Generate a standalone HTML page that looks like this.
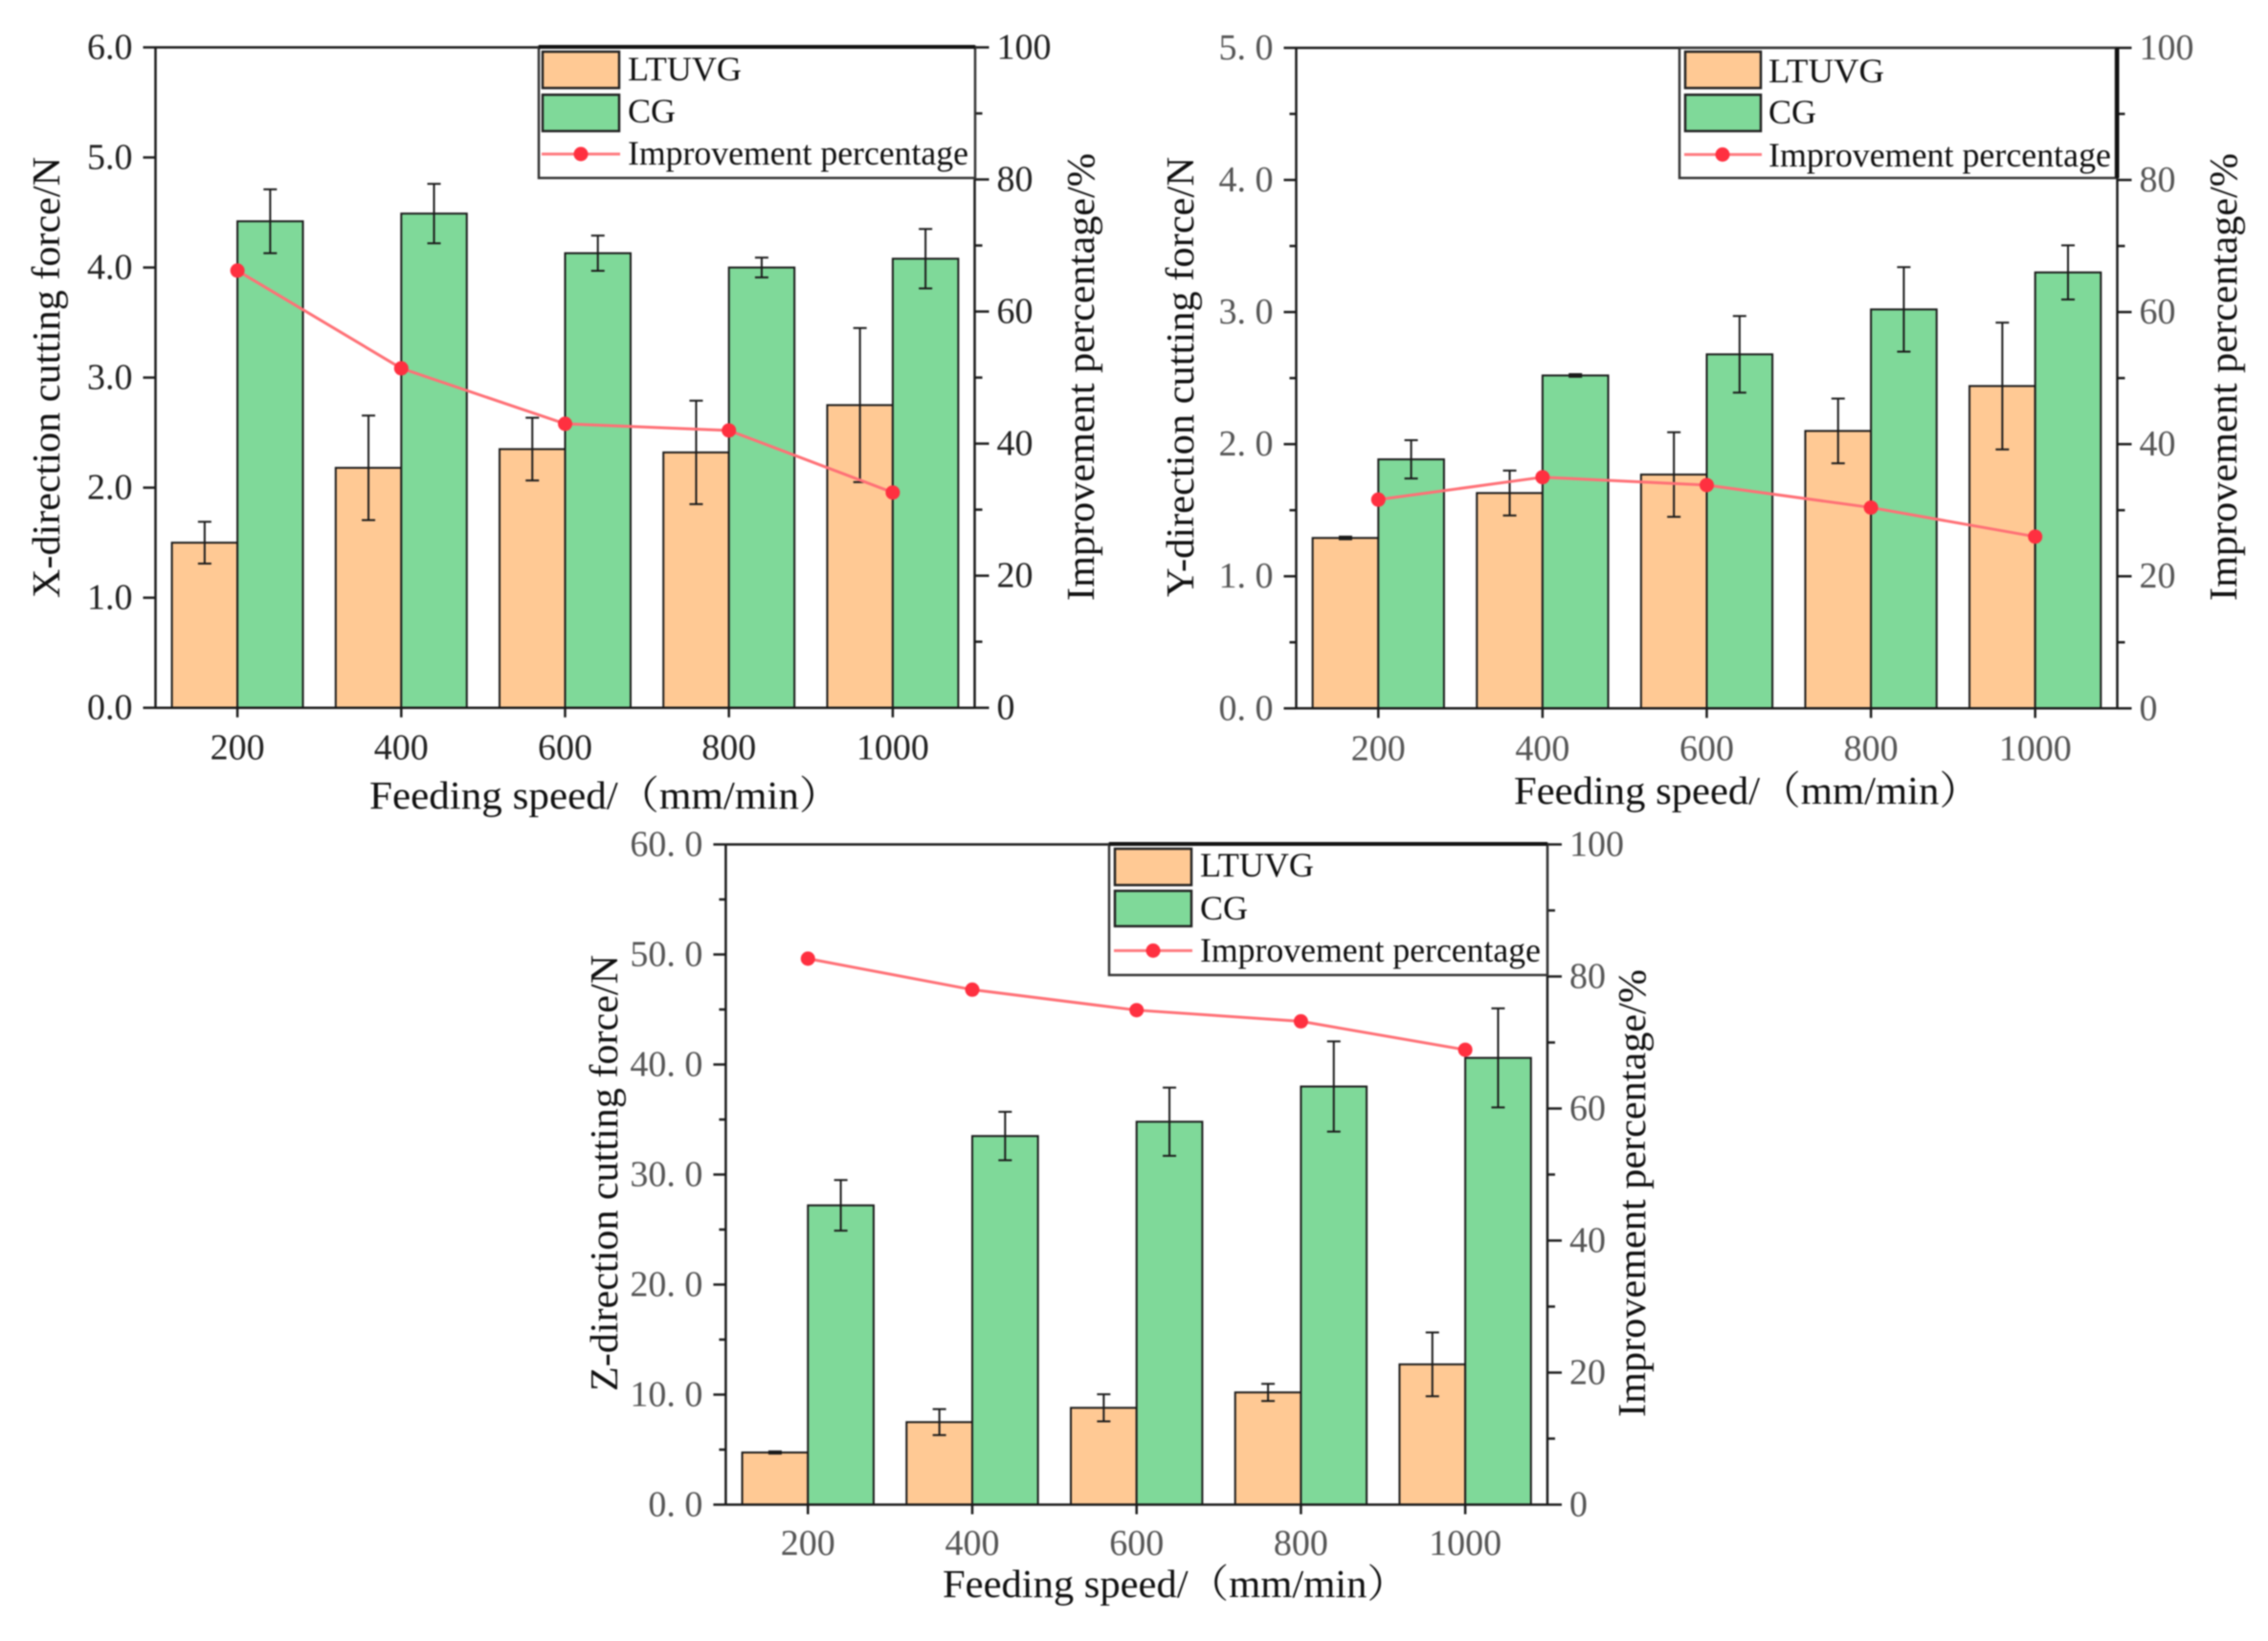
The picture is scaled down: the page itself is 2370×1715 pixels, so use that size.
<!DOCTYPE html>
<html lang="en">
<head>
<meta charset="utf-8">
<title>Cutting force charts</title>
<style>
html,body{margin:0;padding:0;background:#fff;}
svg{display:block;filter:blur(0.7px);font-family:"Liberation Serif","Noto Serif CJK SC",serif;}
.title{font-size:41px;fill:#111;}
.legend-text{font-size:36px;fill:#111;}
</style>
</head>
<body>
<svg id="figure" xmlns="http://www.w3.org/2000/svg" width="2370" height="1715" viewBox="0 0 2370 1715">
  <rect x="0" y="0" width="2370" height="1715" fill="#fff"/>

  <g>
    <g id="marks-x"></g>
    <text class="title" transform="translate(62,625) rotate(-90)" textLength="461" lengthAdjust="spacingAndGlyphs">X-direction cutting  force/N</text>
    <text class="title" transform="translate(1143,628) rotate(-90)" textLength="468" lengthAdjust="spacingAndGlyphs">Improvement percentage/%</text>
    <text class="title" x="386" y="845" textLength="492" lengthAdjust="spacingAndGlyphs">Feeding speed/（mm/min）</text>
    <g>
      <rect x="563" y="49" width="456" height="137" fill="#fff" stroke="#333" stroke-width="2.5"/>
      <line x1="563" y1="49" x2="1019" y2="49" stroke="#111" stroke-width="4"/>
      <rect x="567" y="54" width="80" height="38" fill="#ffc994" stroke="#222" stroke-width="2.5"/>
      <rect x="567" y="99" width="80" height="38" fill="#7fd999" stroke="#222" stroke-width="2.5"/>
      <line x1="566" y1="161" x2="648" y2="161" stroke="#ff7b80" stroke-width="3"/>
      <circle cx="607" cy="161" r="7.5" fill="#ff3040"/>
      <text class="legend-text" x="656" y="84" textLength="119" lengthAdjust="spacingAndGlyphs">LTUVG</text>
      <text class="legend-text" x="656" y="128">CG</text>
      <text class="legend-text" x="656" y="172" textLength="356" lengthAdjust="spacingAndGlyphs">Improvement percentage</text>
    </g>
  </g>

  <g>
    <g id="marks-y"></g>
    <text class="title" transform="translate(1247,624) rotate(-90)" textLength="460" lengthAdjust="spacingAndGlyphs">Y-direction cutting  force/N</text>
    <text class="title" transform="translate(2337,628) rotate(-90)" textLength="468" lengthAdjust="spacingAndGlyphs">Improvement percentage/%</text>
    <text class="title" x="1582" y="840" textLength="487" lengthAdjust="spacingAndGlyphs">Feeding speed/（mm/min）</text>
    <g>
      <rect x="1755" y="50" width="456" height="136" fill="#fff" stroke="#333" stroke-width="2.5"/>
      <line x1="2212.5" y1="50" x2="2212.5" y2="186" stroke="#111" stroke-width="4"/>
      <rect x="1761" y="54" width="79" height="38" fill="#ffc994" stroke="#222" stroke-width="2.5"/>
      <rect x="1761" y="99" width="79" height="38" fill="#7fd999" stroke="#222" stroke-width="2.5"/>
      <line x1="1760" y1="161.5" x2="1841" y2="161.5" stroke="#ff7b80" stroke-width="3"/>
      <circle cx="1800" cy="161.5" r="7.5" fill="#ff3040"/>
      <text class="legend-text" x="1848" y="86" textLength="121" lengthAdjust="spacingAndGlyphs">LTUVG</text>
      <text class="legend-text" x="1848" y="129">CG</text>
      <text class="legend-text" x="1848" y="174" textLength="358" lengthAdjust="spacingAndGlyphs">Improvement percentage</text>
    </g>
  </g>

  <g>
    <g id="marks-z"></g>
    <text class="title" transform="translate(645,1454) rotate(-90)" textLength="456" lengthAdjust="spacingAndGlyphs">Z-direction cutting  force/N</text>
    <text class="title" transform="translate(1719,1481) rotate(-90)" textLength="468" lengthAdjust="spacingAndGlyphs">Improvement percentage/%</text>
    <text class="title" x="985" y="1669" textLength="486" lengthAdjust="spacingAndGlyphs">Feeding speed/（mm/min）</text>
    <g>
      <rect x="1159" y="882" width="458" height="137" fill="#fff" stroke="#333" stroke-width="2.5"/>
      <line x1="1159" y1="882" x2="1617" y2="882" stroke="#111" stroke-width="4"/>
      <rect x="1165" y="887" width="80" height="38" fill="#ffc994" stroke="#222" stroke-width="2.5"/>
      <rect x="1165" y="931" width="80" height="37" fill="#7fd999" stroke="#222" stroke-width="2.5"/>
      <line x1="1164" y1="993.5" x2="1246" y2="993.5" stroke="#ff7b80" stroke-width="3"/>
      <circle cx="1205" cy="993.5" r="7.5" fill="#ff3040"/>
      <text class="legend-text" x="1254" y="916" textLength="119" lengthAdjust="spacingAndGlyphs">LTUVG</text>
      <text class="legend-text" x="1254" y="961">CG</text>
      <text class="legend-text" x="1254" y="1005" textLength="356" lengthAdjust="spacingAndGlyphs">Improvement percentage</text>
    </g>
  </g>
</svg>

<script>
// Shared categories
const categories = [200, 400, 600, 800, 1000];
const rightTickLabels = ['0', '20', '40', '60', '80', '100'];
const rightAxisMax = 100;

// X-direction chart data
const xTickLabels = ['0.0', '1.0', '2.0', '3.0', '4.0', '5.0', '6.0'];
const xAxisMax = 6;
const xLtuvg = [1.50, 2.18, 2.35, 2.32, 2.75];
const xLtuvgErr = [0.19, 0.475, 0.285, 0.47, 0.70];
const xCg = [4.42, 4.49, 4.13, 4.00, 4.08];
const xCgErr = [0.29, 0.27, 0.16, 0.09, 0.27];
const xImprovement = [66.2, 51.4, 43.0, 42.0, 32.6];

// Y-direction chart data
const yTickLabels = ['0. 0', '1. 0', '2. 0', '3. 0', '4. 0', '5. 0'];
const yAxisMax = 5;
const yLtuvg = [1.29, 1.63, 1.77, 2.10, 2.44];
const yLtuvgErr = [0.01, 0.17, 0.32, 0.245, 0.48];
const yCg = [1.885, 2.52, 2.68, 3.02, 3.30];
const yCgErr = [0.145, 0.01, 0.29, 0.32, 0.205];
const yImprovement = [31.6, 35.0, 33.8, 30.4, 26.0];

// Z-direction chart data
const zTickLabels = ['0. 0', '10. 0', '20. 0', '30. 0', '40. 0', '50. 0', '60. 0'];
const zAxisMax = 60;
const zLtuvg = [4.74, 7.5, 8.8, 10.2, 12.75];
const zLtuvgErr = [0.1, 1.18, 1.23, 0.78, 2.9];
const zCg = [27.2, 33.5, 34.8, 38.0, 40.6];
const zCgErr = [2.3, 2.2, 3.1, 4.1, 4.5];
const zImprovement = [82.7, 78.0, 74.9, 73.2, 68.9];

const xDomainMin = 100;
const xDomainMax = 1100;
const barSpan = 80;
const SVGNS = 'http://www.w3.org/2000/svg';

function make(parent, tag, attrs) {
  const el = document.createElementNS(SVGNS, tag);
  for (const k in attrs) el.setAttribute(k, attrs[k]);
  parent.appendChild(el);
  return el;
}

function drawChart(cfg) {
  const root = document.getElementById(cfg.target);
  const p = cfg.prefix;
  const sx = v => cfg.left + (v - xDomainMin) / (xDomainMax - xDomainMin) * (cfg.right - cfg.left);
  const syL = v => cfg.bottom - v / cfg.leftMax * (cfg.bottom - cfg.top);
  const syR = v => cfg.bottom - v / rightAxisMax * (cfg.bottom - cfg.top);
  const AXIS = '#1a1a1a';

  // bars
  categories.forEach((c, i) => {
    const b1 = make(root, 'rect', {x: sx(c - barSpan), y: syL(cfg.a[i]), width: sx(c) - sx(c - barSpan), height: cfg.bottom - syL(cfg.a[i]), fill: '#ffc994', stroke: '#1a1a1a', 'stroke-width': 2});
    
    
  });
  categories.forEach((c, i) => {
    const b2 = make(root, 'rect', {x: sx(c), y: syL(cfg.b[i]), width: sx(c + barSpan) - sx(c), height: cfg.bottom - syL(cfg.b[i]), fill: '#7fd999', stroke: '#1a1a1a', 'stroke-width': 2});
    
    
  });

  // error bars
  function errorBar(cx, val, err, name) {
    const g = make(root, 'g', {stroke: '#1a1a1a', 'stroke-width': 2, fill: 'none'});
    
    
    make(g, 'line', {x1: cx, x2: cx, y1: syL(val + err), y2: syL(val - err)});
    make(g, 'line', {x1: cx - 7, x2: cx + 7, y1: syL(val + err), y2: syL(val + err)});
    make(g, 'line', {x1: cx - 7, x2: cx + 7, y1: syL(val - err), y2: syL(val - err)});
  }
  categories.forEach((c, i) => {
    errorBar(sx(c - barSpan / 2), cfg.a[i], cfg.aErr[i], p + '-error-ltuvg-' + c);
    errorBar(sx(c + barSpan / 2), cfg.b[i], cfg.bErr[i], p + '-error-cg-' + c);
  });

  // improvement line
  const pts = categories.map((c, i) => sx(c) + ',' + syR(cfg.imp[i])).join(' ');
  const line = make(root, 'polyline', {points: pts, fill: 'none', stroke: '#ff7076', 'stroke-width': 3});
  
  
  categories.forEach((c, i) => {
    const dot = make(root, 'circle', {cx: sx(c), cy: syR(cfg.imp[i]), r: 7.5, fill: '#ff3040'});
    
    
  });

  // axis frame
  const edges = [
    ['axis-left', cfg.left, cfg.top, cfg.left, cfg.bottom],
    ['axis-right', cfg.right, cfg.top, cfg.right, cfg.bottom],
    ['axis-top', cfg.left, cfg.top, cfg.right, cfg.top],
    ['axis-bottom', cfg.left, cfg.bottom, cfg.right, cfg.bottom]
  ];
  edges.forEach(e => {
    const l = make(root, 'line', {x1: e[1], y1: e[2], x2: e[3], y2: e[4], stroke: AXIS, 'stroke-width': 2.5});
    
    
  });

  function label(x, y, txt, anchor, color, name) {
    const t = make(root, 'text', {x: x, y: y, 'text-anchor': anchor, fill: color, 'font-size': 38});
    t.textContent = txt;
    
    
  }
  function tick(x1, y1, x2, y2, name) {
    const l = make(root, 'line', {x1: x1, y1: y1, x2: x2, y2: y2, stroke: AXIS, 'stroke-width': 2.5});
    
    
  }

  // x ticks
  categories.forEach(c => {
    tick(sx(c), cfg.bottom, sx(c), cfg.bottom + 10, p + '-x-tick-' + c);
    label(sx(c), cfg.xLabelY, String(c), 'middle', cfg.xColor, p + '-x-tick-label-' + c);
  });

  // left ticks
  const leftStep = cfg.leftMax / (cfg.leftLabels.length - 1);
  cfg.leftLabels.forEach((txt, i) => {
    const v = i * leftStep;
    tick(cfg.left - 13, syL(v), cfg.left, syL(v), p + '-left-tick-' + i);
    label(cfg.left - 24, syL(v) + 12, txt, 'end', cfg.leftColor, p + '-left-tick-label-' + i);
    if (cfg.leftMinor && i < cfg.leftLabels.length - 1) {
      tick(cfg.left - 7, syL(v + leftStep / 2), cfg.left, syL(v + leftStep / 2), p + '-left-minor-tick-' + i);
    }
  });

  // right ticks
  const rightStep = rightAxisMax / (rightTickLabels.length - 1);
  rightTickLabels.forEach((txt, i) => {
    const v = i * rightStep;
    tick(cfg.right, syR(v), cfg.right + 15, syR(v), p + '-right-tick-' + i);
    label(cfg.right + 23, syR(v) + 12, txt, 'start', cfg.rightColor, p + '-right-tick-label-' + i);
    if (i < rightTickLabels.length - 1) {
      tick(cfg.right, syR(v + rightStep / 2), cfg.right + 8, syR(v + rightStep / 2), p + '-right-minor-tick-' + i);
    }
  });
}

drawChart({target: 'marks-x', prefix: 'x-chart', left: 162.5, right: 1018.5, top: 49.5, bottom: 739.7, xLabelY: 793.5,
  leftMax: xAxisMax, leftLabels: xTickLabels, leftMinor: false, leftColor: '#222', rightColor: '#222', xColor: '#222',
  a: xLtuvg, aErr: xLtuvgErr, b: xCg, bErr: xCgErr, imp: xImprovement});
drawChart({target: 'marks-y', prefix: 'y-chart', left: 1354.5, right: 2212.5, top: 50, bottom: 740.3, xLabelY: 794.5,
  leftMax: yAxisMax, leftLabels: yTickLabels, leftMinor: true, leftColor: '#555', rightColor: '#555', xColor: '#555',
  a: yLtuvg, aErr: yLtuvgErr, b: yCg, bErr: yCgErr, imp: yImprovement});
drawChart({target: 'marks-z', prefix: 'z-chart', left: 758.4, right: 1617, top: 882.5, bottom: 1572.5, xLabelY: 1625,
  leftMax: zAxisMax, leftLabels: zTickLabels, leftMinor: true, leftColor: '#555', rightColor: '#555', xColor: '#555',
  a: zLtuvg, aErr: zLtuvgErr, b: zCg, bErr: zCgErr, imp: zImprovement});
</script>
</body>
</html>
